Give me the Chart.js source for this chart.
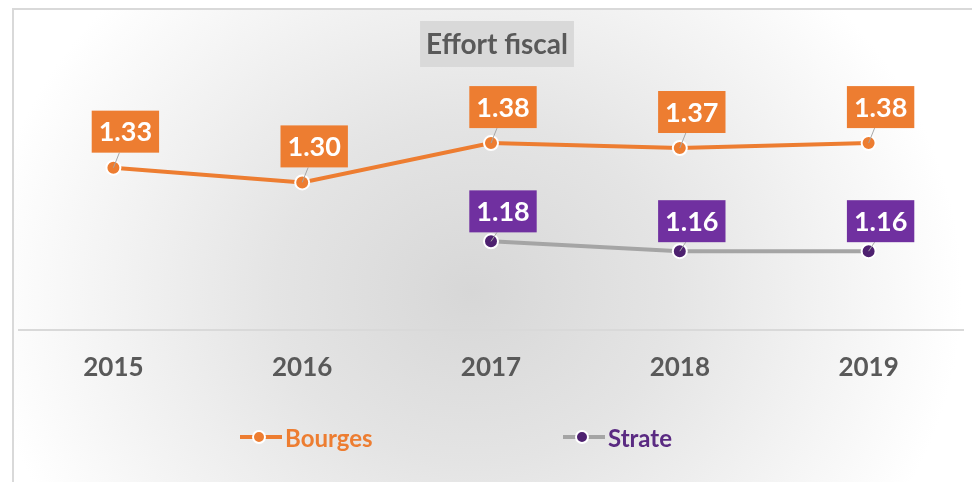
<!DOCTYPE html>
<html>
<head>
<meta charset="utf-8">
<script src="https://cdn.jsdelivr.net/npm/chart.js@4/dist/chart.umd.min.js"></script>
<style>
  html, body { margin: 0; padding: 0; background: #fff; }
  #wrap { position: relative; width: 972px; height: 482px; overflow: hidden; }
  #frame {
    position: absolute; left: 12px; top: 8px; width: 980px; height: 490px;
    border-left: 2px solid #d9d9d9; border-top: 2px solid #d9d9d9;
    background: radial-gradient(ellipse 490px 430px at 458px 282px, #d7d7d7 0%, #e4e4e4 40%, #ffffff 100%);
  }
  canvas { position: absolute; left: 0; top: 0; }
</style>
</head>
<body>
<div id="wrap">
  <div id="frame"></div>
  <canvas id="chart" width="972" height="482"></canvas>
</div>
<script>
// ---------------- DONNEES ----------------
const years = ["2015", "2016", "2017", "2018", "2019"];
const bourges = [1.33, 1.30, 1.38, 1.37, 1.38];
const strate = [null, null, 1.18, 1.16, 1.16];

const chartTitle = "Effort fiscal";
const FONT = "Lato, 'Open Sans', sans-serif";

const orange = "#ED7D31";
const grayLine = "#A5A5A5";
const purpleDot = "#4E2170";
const purpleBox = "#7030A0";
const textGray = "#595959";

// ---------------- ETIQUETTES + TITRE + LEGENDE ----------------
const decorPlugin = {
    id: "decor",
    afterDatasetsDraw(chart) {
        const ctx = chart.ctx;
        ctx.save();

        // etiquettes de donnees
        chart.data.datasets.forEach((ds, di) => {
            const meta = chart.getDatasetMeta(di);
            ctx.font = "bold 27px " + FONT;
            meta.data.forEach((pt, i) => {
                const v = ds.data[i];
                if (v === null || v === undefined) return;
                const txt = v.toFixed(2);
                const w = ctx.measureText(txt).width + 14;
                const h = 42;
                const cx = pt.x + ds.lblDx;
                const cy = pt.y + ds.lblDy;

                // trait de rappel
                ctx.strokeStyle = "#a6a6a6";
                ctx.lineWidth = 1;
                ctx.beginPath();
                ctx.moveTo(pt.x, pt.y);
                ctx.lineTo(cx - 6, cy + h / 2);
                ctx.stroke();

                ctx.fillStyle = ds.lblColor;
                ctx.fillRect(cx - w / 2, cy - h / 2, w, h);
                ctx.fillStyle = "#ffffff";
                ctx.textAlign = "center";
                ctx.textBaseline = "middle";
                ctx.fillText(txt, cx, cy + 1);
            });
        });

        // titre
        ctx.font = "bold 28px " + FONT;
        const tw = ctx.measureText(chartTitle).width;
        ctx.fillStyle = "#d9d9d9";
        ctx.fillRect(497 - tw / 2 - 6, 21, tw + 12, 46);
        ctx.fillStyle = textGray;
        ctx.textAlign = "center";
        ctx.textBaseline = "middle";
        ctx.fillText(chartTitle, 497, 45);

        // legende
        const items = [
            { label: "Bourges", line: orange, dot: orange, text: orange, x: 240 },
            { label: "Strate", line: grayLine, dot: purpleDot, text: "#5A2A82", x: 563 }
        ];
        const ly = 437;
        items.forEach(it => {
            ctx.strokeStyle = it.line;
            ctx.lineWidth = 4;
            ctx.beginPath();
            ctx.moveTo(it.x, ly);
            ctx.lineTo(it.x + 42, ly);
            ctx.stroke();
            ctx.beginPath();
            ctx.arc(it.x + 19, ly, 6, 0, Math.PI * 2);
            ctx.fillStyle = it.dot;
            ctx.fill();
            ctx.strokeStyle = "#ffffff";
            ctx.lineWidth = 2;
            ctx.stroke();
            ctx.font = "bold 24px " + FONT;
            ctx.fillStyle = it.text;
            ctx.textAlign = "left";
            ctx.textBaseline = "middle";
            ctx.fillText(it.label, it.x + 45, ly + 2);
        });

        ctx.restore();
    }
};

// ---------------- GRAPHIQUE ----------------
const ctxChart = document.getElementById("chart").getContext("2d");
const chart = new Chart(ctxChart, {
    type: "line",
    data: {
        labels: years,
        datasets: [{
            label: "Bourges",
            data: bourges,
            borderColor: orange,
            borderWidth: 4,
            pointBackgroundColor: orange,
            pointBorderColor: "#ffffff",
            pointBorderWidth: 2,
            pointRadius: 7,
            tension: 0,
            lblColor: orange,
            lblDx: 12,
            lblDy: -36
        }, {
            label: "Strate",
            data: strate,
            borderColor: grayLine,
            borderWidth: 4,
            pointBackgroundColor: purpleDot,
            pointBorderColor: "#ffffff",
            pointBorderWidth: 2,
            pointRadius: 7,
            tension: 0,
            lblColor: purpleBox,
            lblDx: 12,
            lblDy: -30
        }]
    },
    options: {
        responsive: false,
        animation: false,
        layout: { padding: { left: 19, right: 8, top: 35, bottom: 85 } },
        plugins: {
            legend: { display: false },
            title: { display: false },
            tooltip: { enabled: false }
        },
        scales: {
            x: {
                offset: true,
                grid: { display: false },
                border: { display: true, color: "#d9d9d9", width: 2 },
                ticks: {
                    color: textGray,
                    font: { family: FONT, size: 26, weight: "bold" },
                    padding: 14
                }
            },
            y: {
                display: false,
                min: 1.0,
                max: 1.6
            }
        }
    },
    plugins: [decorPlugin]
});
</script>
</body>
</html>
